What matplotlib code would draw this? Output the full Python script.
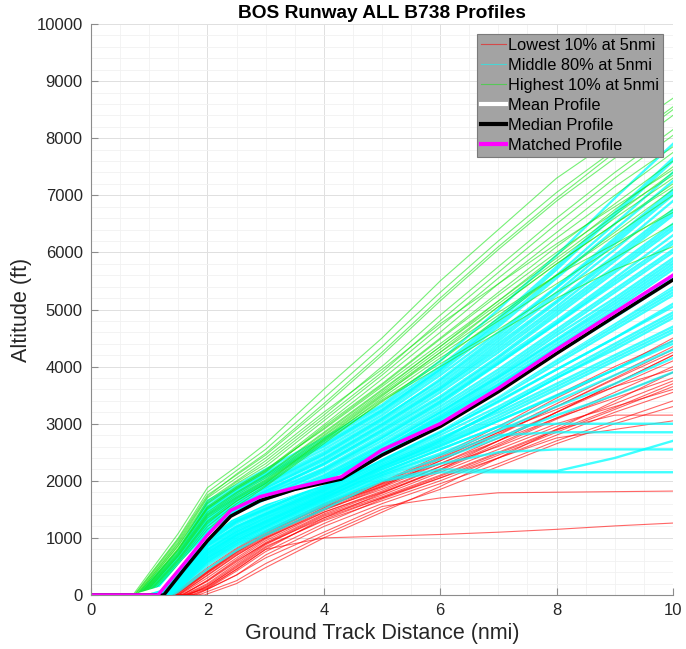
import numpy as np
import matplotlib
matplotlib.use("Agg")
import matplotlib.pyplot as plt
from matplotlib.ticker import MultipleLocator
from matplotlib.lines import Line2D

plt.rcParams['font.family'] = ['Liberation Sans', 'DejaVu Sans']

# distance grids (nmi) used by the individual profiles after lift-off
GRID_LOW = [2.0, 2.5, 3.0, 4.0, 5.0, 6.0, 7.0, 8.0, 9.0, 10.0]
GRID_UP = [1.5, 2.0, 2.5, 3.0, 4.0, 5.0, 6.0, 7.0, 8.0, 9.0, 10.0]

# each row: lift-off distance, then altitude (ft) at the grid points
low_profiles = [
    [1.60, 120, 450, 800, 1000, 1030, 1060, 1100, 1150, 1210, 1260],
    [1.80, 100, 350, 650, 1100, 1550, 1700, 1790, 1800, 1810, 1820],
    [1.55, 250, 600, 900, 1350, 1700, 2050, 2400, 2750, 2900, 3050],
    [1.50, 350, 700, 1000, 1450, 1800, 2200, 2650, 3100, 3550, 4000],
    [1.45, 400, 750, 1050, 1500, 1850, 2250, 2700, 3200, 3650, 4100],
    [1.60, 200, 550, 900, 1400, 1750, 2150, 2550, 2950, 3350, 3750],
    [1.40, 450, 800, 1100, 1550, 1900, 2350, 2800, 3300, 3800, 4300],
    [1.65, 150, 500, 850, 1300, 1650, 2000, 2400, 2800, 3200, 3550],
    [1.48, 380, 720, 1020, 1520, 1950, 2400, 2850, 3350, 3850, 4350],
    [1.75, 100, 350, 700, 1200, 1600, 1950, 2300, 2700, 3050, 3400],
    [1.52, 300, 650, 980, 1480, 1880, 2300, 2750, 3200, 3700, 4200],
    [1.42, 420, 780, 1080, 1580, 1960, 2420, 2900, 3450, 3950, 4500],
    [1.85, 60, 250, 550, 1050, 1500, 1850, 2250, 2650, 3000, 3300],
    [1.58, 260, 620, 950, 1450, 1820, 2250, 2600, 3000, 3300, 3600],
    [1.46, 390, 740, 1040, 1530, 1920, 2380, 2850, 3250, 3650, 3950],
    [1.68, 140, 450, 800, 1350, 1780, 2200, 2700, 3200, 3700, 4200],
    [1.95, 20, 200, 480, 1000, 1450, 1900, 2400, 2900, 3400, 3900],
    [1.62, 180, 520, 880, 1380, 1720, 2100, 2500, 2900, 3150, 3150],
    [1.38, 480, 820, 1120, 1600, 1980, 2450, 2950, 3500, 4000, 4450],
    [1.72, 110, 420, 760, 1250, 1680, 2050, 2450, 2850, 3250, 3650],
    [1.56, 240, 580, 920, 1420, 1790, 2180, 2620, 3080, 3500, 3900],
    [1.44, 410, 760, 1060, 1560, 1940, 2300, 2700, 3100, 3450, 3800],
    [1.66, 160, 480, 830, 1320, 1700, 2080, 2480, 2880, 3280, 3700],
    [1.50, 340, 690, 1000, 1500, 1900, 2350, 2820, 3300, 3780, 4250],
]

mid_profiles = [
    [1.40, 60, 450, 780, 1050, 1500, 2000, 2150, 2150, 2150, 2150, 2150],
    [1.35, 95, 520, 850, 1100, 1560, 2050, 2300, 2500, 2550, 2550, 2550],
    [1.32, 120, 560, 880, 1120, 1600, 2020, 2200, 2180, 2170, 2400, 2700],
    [1.30, 140, 600, 920, 1180, 1650, 2100, 2450, 2800, 2850, 2850, 2850],
    [1.28, 160, 650, 950, 1200, 1700, 2150, 2550, 2950, 3000, 3000, 3000],
    [1.35, 105, 580, 900, 1150, 1620, 2080, 2380, 2750, 3150, 3500, 3900],
    [1.25, 190, 700, 1000, 1250, 1700, 2150, 2550, 2950, 3400, 3850, 4300],
    [1.30, 150, 650, 980, 1220, 1680, 2200, 2600, 3050, 3500, 3950, 4450],
    [1.22, 215, 750, 1050, 1300, 1750, 2250, 2650, 3100, 3600, 4100, 4600],
    [1.20, 240, 800, 1100, 1350, 1800, 2300, 2750, 3200, 3700, 4200, 4700],
    [1.28, 175, 720, 1050, 1280, 1720, 2250, 2700, 3250, 3800, 4300, 4850],
    [1.18, 265, 850, 1150, 1400, 1820, 2330, 2800, 3300, 3850, 4400, 4950],
    [1.15, 300, 900, 1200, 1420, 1850, 2350, 2850, 3400, 3950, 4500, 5050],
    [1.25, 215, 800, 1130, 1380, 1830, 2380, 2900, 3450, 4050, 4650, 5250],
    [1.12, 330, 950, 1250, 1480, 1900, 2400, 2950, 3550, 4150, 4750, 5350],
    [1.10, 355, 1000, 1300, 1520, 1920, 2450, 3000, 3600, 4200, 4850, 5450],
    [1.20, 275, 920, 1280, 1500, 1950, 2480, 3050, 3650, 4300, 4950, 5600],
    [1.08, 385, 1050, 1350, 1580, 1980, 2520, 3100, 3700, 4350, 5000, 5700],
    [1.05, 420, 1100, 1400, 1620, 2020, 2550, 3150, 3800, 4450, 5100, 5800],
    [1.15, 345, 1050, 1380, 1600, 2050, 2600, 3200, 3850, 4550, 5200, 5900],
    [1.02, 450, 1150, 1450, 1680, 2100, 2650, 3250, 3900, 4600, 5300, 6000],
    [1.00, 480, 1200, 1500, 1720, 2150, 2700, 3300, 3950, 4650, 5350, 6050],
    [1.10, 410, 1150, 1480, 1700, 2180, 2750, 3350, 4050, 4750, 5450, 6150],
    [0.98, 510, 1250, 1550, 1780, 2220, 2800, 3400, 4100, 4800, 5550, 6300],
    [0.95, 545, 1300, 1600, 1820, 2280, 2850, 3450, 4150, 4900, 5650, 6400],
    [1.05, 475, 1250, 1580, 1800, 2300, 2900, 3550, 4250, 5000, 5750, 6500],
    [0.92, 580, 1350, 1650, 1880, 2350, 2950, 3600, 4300, 5050, 5850, 6650],
    [0.90, 610, 1400, 1700, 1920, 2400, 3000, 3650, 4400, 5150, 5950, 6750],
    [1.00, 550, 1380, 1680, 1950, 2450, 3050, 3700, 4450, 5250, 6050, 6900],
    [0.88, 640, 1450, 1750, 2000, 2500, 3100, 3750, 4500, 5300, 6150, 7000],
    [0.85, 680, 1500, 1800, 2050, 2550, 3150, 3850, 4600, 5400, 6250, 7100],
    [0.95, 565, 1480, 1780, 2080, 2600, 3200, 3900, 4700, 5550, 6400, 7250],
    [0.82, 715, 1550, 1850, 2120, 2650, 3250, 3950, 4750, 5600, 6500, 7400],
    [0.90, 700, 1600, 1880, 2150, 2700, 3300, 4000, 4850, 5750, 6700, 7650],
    [0.80, 770, 1650, 1920, 2200, 2750, 3330, 4100, 5000, 5950, 6950, 7900],
    [1.12, 340, 980, 1290, 1510, 1940, 2470, 3020, 3580, 4180, 4800, 5400],
    [1.18, 275, 880, 1200, 1440, 1880, 2420, 2920, 3500, 4100, 4700, 5300],
    [1.22, 225, 780, 1100, 1340, 1780, 2280, 2720, 3250, 3800, 4350, 4900],
    [1.05, 425, 1120, 1420, 1650, 2080, 2620, 3200, 3820, 4480, 5150, 5850],
    [0.97, 525, 1280, 1580, 1830, 2300, 2880, 3480, 4180, 4950, 5700, 6450],
    [1.02, 520, 1330, 1640, 1870, 2380, 2980, 3620, 4350, 5120, 5900, 6700],
    [1.26, 175, 680, 1020, 1260, 1740, 2200, 2620, 3050, 3480, 3950, 4400],
    [1.33, 125, 620, 950, 1200, 1660, 2120, 2480, 2880, 3300, 3700, 4150],
    [1.15, 335, 1020, 1330, 1560, 1990, 2530, 3080, 3680, 4320, 4950, 5550],
    [0.93, 605, 1420, 1720, 1960, 2470, 3080, 3780, 4550, 5380, 6200, 7050],
    [0.87, 680, 1520, 1830, 2100, 2620, 3230, 3950, 4800, 5700, 6650, 7600],
    [1.08, 395, 1080, 1390, 1610, 2030, 2560, 3120, 3750, 4400, 5050, 5750],
    [1.00, 490, 1220, 1520, 1760, 2200, 2760, 3380, 4060, 4760, 5500, 6200],
    [1.20, 260, 860, 1180, 1420, 1860, 2360, 2850, 3380, 3950, 4500, 5100],
    [1.28, 180, 740, 1060, 1300, 1760, 2230, 2680, 3150, 3650, 4150, 4650],
]

high_profiles = [
    [0.72, 1080, 1880, 2250, 2650, 3600, 4500, 5500, 6400, 7300, 8000, 8700],
    [0.75, 980, 1750, 2100, 2450, 3300, 4200, 5150, 6050, 6900, 7650, 8400],
    [0.78, 900, 1650, 2000, 2350, 3150, 4000, 4900, 5750, 6600, 7400, 8150],
    [0.80, 860, 1600, 1950, 2250, 3050, 3850, 4700, 5550, 6350, 7150, 7850],
    [0.85, 780, 1500, 1850, 2150, 2950, 3700, 4500, 5300, 6100, 6850, 7600],
    [0.82, 820, 1550, 1900, 2200, 2900, 3650, 4400, 5150, 5900, 6650, 7400],
    [0.88, 710, 1400, 1750, 2050, 2800, 3550, 4300, 5050, 5800, 6500, 7200],
    [0.90, 680, 1350, 1700, 2000, 2750, 3500, 4200, 4900, 5600, 6300, 7000],
    [0.95, 600, 1250, 1650, 1950, 2700, 3450, 4150, 4800, 5450, 6100, 6750],
    [0.92, 640, 1300, 1680, 1980, 2720, 3420, 4050, 4650, 5300, 5900, 6500],
    [1.00, 530, 1150, 1550, 1900, 2650, 3400, 4000, 4600, 5200, 5700, 6100],
    [0.78, 920, 1700, 2050, 2400, 3200, 3950, 4750, 5450, 6150, 6800, 7450],
    [0.84, 800, 1520, 1880, 2180, 2980, 3780, 4600, 5450, 6250, 7000, 7750],
    [0.86, 750, 1450, 1800, 2100, 2850, 3600, 4350, 5100, 5850, 6600, 7300],
    [0.97, 570, 1200, 1600, 1920, 2680, 3380, 4100, 4850, 5600, 6350, 7100],
    [0.80, 870, 1620, 1980, 2300, 3100, 3900, 4800, 5650, 6500, 7300, 8050],
    [0.90, 690, 1380, 1720, 2020, 2780, 3520, 4250, 4950, 5600, 6150, 6700],
    [0.76, 950, 1720, 2120, 2480, 3350, 4250, 5200, 6100, 6950, 7750, 8500],
    [0.74, 1000, 1800, 2180, 2550, 3450, 4350, 5300, 6200, 7050, 7800, 8550],
    [0.83, 805, 1530, 1870, 2170, 2920, 3680, 4480, 5250, 6000, 6700, 7350],
    [0.94, 620, 1280, 1640, 1960, 2730, 3480, 4250, 5050, 5800, 6500, 7150],
    [0.87, 730, 1420, 1780, 2080, 2830, 3580, 4350, 5150, 5950, 6750, 7500],
]

mean_x = [0, 0.8, 1.2, 1.6, 2.0, 2.4, 3.0, 4.0, 4.5, 5.0, 6.0, 7.0, 8.0, 9.0, 10.0]
mean_alt = [0, 0, 120, 600, 1020, 1340, 1620, 1960, 2160, 2420, 2920, 3520, 4170, 4800, 5450]

median_x = [0, 1.25, 1.6, 2.0, 2.4, 2.9, 3.5, 4.3, 5.0, 6.0, 7.0, 8.0, 9.0, 10.0]
median_alt = [0, 0, 450, 950, 1380, 1650, 1850, 2030, 2450, 2950, 3560, 4230, 4880, 5520]

matched_x = [0, 1.15, 1.6, 2.0, 2.4, 2.9, 3.5, 4.3, 5.0, 6.0, 7.0, 8.0, 9.0, 10.0]
matched_alt = [0, 0, 550, 1050, 1480, 1720, 1880, 2070, 2540, 3000, 3620, 4300, 4950, 5600]


def profile_xy(row, grid):
    xs = [0, row[0]] + grid
    ys = [0, 0] + row[1:]
    return xs, ys


fig = plt.figure(figsize=(6.86, 6.49), dpi=100)
ax = fig.add_axes([0.1327, 0.0832, 0.8483, 0.8798])

for row in low_profiles:
    xs, ys = profile_xy(row, GRID_LOW)
    ax.plot(xs, ys, color=(1, 0, 0), lw=0.8, alpha=0.6)
for row in mid_profiles:
    xs, ys = profile_xy(row, GRID_UP)
    ax.plot(xs, ys, color=(0, 1, 1), lw=1.7, alpha=0.75)
for row in high_profiles:
    xs, ys = profile_xy(row, GRID_UP)
    ax.plot(xs, ys, color=(0.1, 0.9, 0.1), lw=0.8, alpha=0.6)

ax.plot(mean_x, mean_alt, color='white', lw=2.5)
ax.plot(median_x, median_alt, color='black', lw=2.5)
ax.plot(matched_x, matched_alt, color=(1, 0, 1), lw=2.5)

ax.set_xlim(0, 10)
ax.set_ylim(0, 10000)
ax.xaxis.set_major_locator(MultipleLocator(2))
ax.xaxis.set_minor_locator(MultipleLocator(0.5))
ax.yaxis.set_major_locator(MultipleLocator(1000))
ax.yaxis.set_minor_locator(MultipleLocator(200))
ax.grid(which='major', color='#e0e0e0', lw=0.7)
ax.grid(which='minor', color='#f1f1f1', lw=0.6)
ax.set_axisbelow(True)

for side in ['top', 'right']:
    ax.spines[side].set_visible(False)
for side in ['left', 'bottom']:
    ax.spines[side].set_color('#8c8c8c')
ax.tick_params(which='major', direction='in', length=5, color='#8c8c8c',
               labelsize=12, labelcolor='#262626', pad=6)
ax.tick_params(which='minor', length=0)

ax.set_xlabel("Ground Track Distance (nmi)", fontsize=15.5, color='#262626', labelpad=3)
ax.set_ylabel("Altitude (ft)", fontsize=15.5, color='#262626', labelpad=3)
ax.set_title("BOS Runway ALL B738 Profiles", fontsize=13.8, fontweight='bold', pad=4)

handles = [
    Line2D([], [], color=(1, 0, 0), lw=0.8, alpha=0.55),
    Line2D([], [], color=(0, 1, 1), lw=0.8, alpha=0.55),
    Line2D([], [], color=(0.1, 0.9, 0.1), lw=0.8, alpha=0.55),
    Line2D([], [], color='white', lw=3),
    Line2D([], [], color='black', lw=3),
    Line2D([], [], color=(1, 0, 1), lw=3),
]
names = ["Lowest 10% at 5nmi", "Middle 80% at 5nmi", "Highest 10% at 5nmi",
         "Mean Profile", "Median Profile", "Matched Profile"]
leg = ax.legend(handles, names, loc='upper right', fontsize=11.8,
                facecolor='#a3a3a3', edgecolor='#7a7a7a', framealpha=1,
                fancybox=False, handlelength=1.55, handletextpad=0.1,
                labelspacing=0.3, borderpad=0.25, borderaxespad=0.6)
leg.get_frame().set_linewidth(0.8)

fig.savefig("out.png", dpi=100)
